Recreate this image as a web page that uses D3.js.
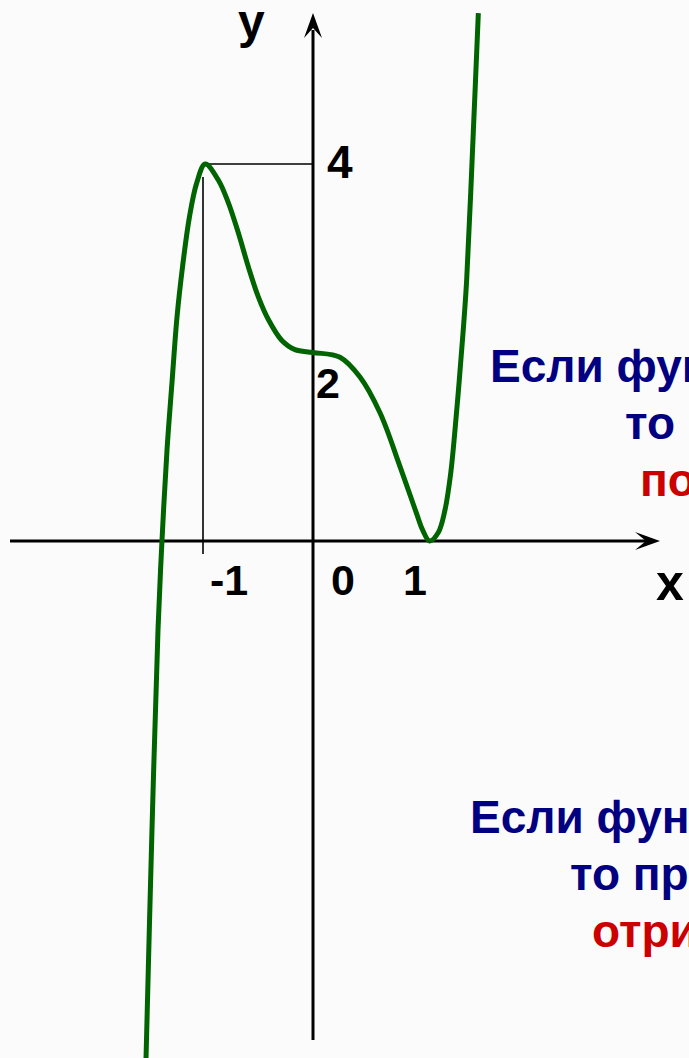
<!DOCTYPE html>
<html>
<head>
<meta charset="utf-8">
<script src="https://cdn.jsdelivr.net/npm/d3@7"></script>
<style>
body { margin: 0; background: #fbfbfb; }
svg { display: block; }
text { font-family: "Liberation Sans", Arial, sans-serif; font-weight: bold; }
</style>
</head>
<body>
<svg class="graph-svg" width="689" height="1058"></svg>
<script>

// curve points: [x, y]
var curvePoints = [
	[-1.518, -5.49], [-1.464, -3.07], [-1.409, -0.94], [-1.373, 0], [-1.327, 0.97],
	[-1.282, 1.68], [-1.236, 2.38], [-1.186, 2.91], [-1.123, 3.44], [-1.057, 3.80],
	[-0.98, 4], [-0.861, 3.83], [-0.77, 3.59], [-0.679, 3.27], [-0.588, 2.91],
	[-0.497, 2.59], [-0.406, 2.35], [-0.285, 2.13], [-0.164, 2.03], [0, 2],
	[0.245, 1.95], [0.427, 1.74], [0.609, 1.36], [0.791, 0.79], [0.945, 0.28],
	[0.995, 0.12], [1.06, 0], [1.139, 0.09], [1.20, 0.33], [1.252, 0.72],
	[1.291, 1.18], [1.33, 1.71], [1.366, 2.24], [1.397, 2.77], [1.457, 4.33],
	[1.503, 5.60]
];

var xTicks = [-1, 0, 1];
var xTickLabels = ["-1", "0", "1"];
var yTicks = [4, 2];
var yTickLabels = ["4", "2"];
var peak = [-1, 4];

var textUp = ["Если функция возрастает,", "то производная", "положительна"];
var textDown = ["Если функция убывает,", "то производная", "отрицательна"];

var svg = d3.select(".graph-svg");

var x = d3.scaleLinear().domain([0, 1]).range([313, 423]);
var y = d3.scaleLinear().domain([0, 4]).range([541, 164]);

// thin guide lines to the maximum
svg.append("line")
	.attr("x1", x(peak[0]) + 2).attr("x2", x(0))
	.attr("y1", y(peak[1])).attr("y2", y(peak[1]))
	.attr("stroke", "#000").attr("stroke-width", 1.6)
svg.append("line")
	.attr("x1", x(peak[0])).attr("x2", x(peak[0]))
	.attr("y1", y(peak[1]) + 13).attr("y2", y(0) + 13)
	.attr("stroke", "#000").attr("stroke-width", 1.6)

// axes
svg.append("line")
	.attr("x1", 10).attr("x2", 648)
	.attr("y1", y(0)).attr("y2", y(0))
	.attr("stroke", "#000").attr("stroke-width", 3)
svg.append("line")
	.attr("x1", x(0)).attr("x2", x(0))
	.attr("y1", 1040).attr("y2", 30)
	.attr("stroke", "#000").attr("stroke-width", 3)

svg.append("path")
	.attr("d", "M660," + y(0) + " L635," + (y(0) - 9) + " L646," + y(0) + " L635," + (y(0) + 9) + " Z")
	.attr("fill", "#000")
svg.append("path")
	.attr("d", "M" + x(0) + ",13 L" + (x(0) - 9) + ",38 L" + x(0) + ",28 L" + (x(0) + 9) + ",38 Z")
	.attr("fill", "#000")

// the graph
var line = d3.line()
	.x(function(d) { return x(d[0]); })
	.y(function(d) { return y(d[1]); })
	.curve(d3.curveCatmullRom.alpha(0.5));

svg.append("path")
	.datum(curvePoints)
	.attr("d", line)
	.attr("fill", "none")
	.attr("stroke", "#006400")
	.attr("stroke-width", 5)
	.attr("stroke-linejoin", "round")

// tick labels
var xDx = [26, 30, -8];
svg.selectAll(".x-tick")
	.data(xTicks).enter()
	.append("text")
	.attr("class", "x-tick")
	.attr("x", function(d, i) { return x(d) + xDx[i]; })
	.attr("y", 595)
	.attr("text-anchor", "middle")
	.attr("font-size", 43)
	.text(function(d, i) { return xTickLabels[i]; })

var yDx = [14, 3];
var yDy = [14, 45];
var ySize = [46, 43];
svg.selectAll(".y-tick")
	.data(yTicks).enter()
	.append("text")
	.attr("class", "y-tick")
	.attr("x", function(d, i) { return x(0) + yDx[i]; })
	.attr("y", function(d, i) { return y(d) + yDy[i]; })
	.attr("font-size", function(d, i) { return ySize[i]; })
	.text(function(d, i) { return yTickLabels[i]; })

svg.append("text").attr("x", 238).attr("y", 38).attr("font-size", 48).text("y")
svg.append("text").attr("x", 656).attr("y", 600).attr("font-size", 50).text("x")

// captions on the right
function addCaption(parent, lines, xs, y0) {
	var colors = ["#000080", "#000080", "#cc0000"];
	for (var i = 0; i < lines.length; i++) {
		parent.append("text")
			.attr("x", xs[i])
			.attr("y", y0 + i * 57)
			.attr("font-size", 46)
			.attr("fill", colors[i])
			.text(lines[i])
	}
}

addCaption(svg, textUp, [490, 625, 640], 382)
addCaption(svg, textDown, [470, 570, 592], 833)

</script>
</body>
</html>
